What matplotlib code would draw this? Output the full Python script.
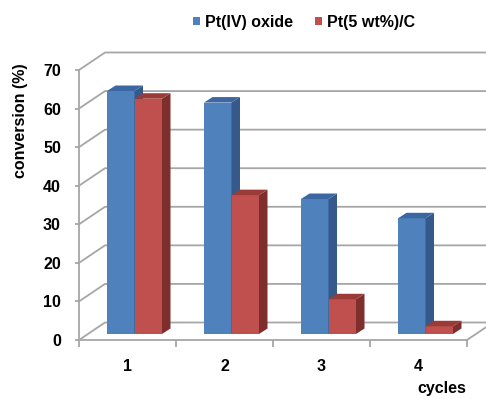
import matplotlib
matplotlib.use("Agg")
import matplotlib.pyplot as plt
from matplotlib.patches import Polygon
import numpy as np

categories = ["1", "2", "3", "4"]
series_names = ["Pt(IV) oxide", "Pt(5 wt%)/C"]
pt_oxide = [63, 60, 35, 30]
pt_carbon = [61, 36, 9, 2]
yticks = [0, 10, 20, 30, 40, 50, 60, 70]

plt.rcParams['font.family'] = ['Liberation Sans', 'DejaVu Sans']

W, H = 486, 399
fig = plt.figure(figsize=(W / 100, H / 100), dpi=100)
px_per_x = 97.0
px_per_y = 3.857
left_px, bottom_px = 79, 340
ymax = 75
ax = fig.add_axes([left_px / W, (H - bottom_px) / H,
                   (W - left_px) / W, ymax * px_per_y / H])
xmin = 0.5
xmax = 0.5 + (W - left_px) / px_per_x
ax.set_xlim(xmin, xmax)
ax.set_ylim(0, ymax)

grid_c = "#A6A6A6"
wdx = 26 / px_per_x
wdy = 17.5 / px_per_y
xend = 4.5
for v in yticks:
    ax.plot([xmin, xmin + wdx, xmax + 1], [v, v + wdy, v + wdy], color=grid_c,
            lw=1.3, clip_on=False, zorder=1)
ax.plot([xend, xend + wdx], [0, wdy], color=grid_c, lw=1.3, clip_on=False, zorder=1)

for s in ["top", "right"]:
    ax.spines[s].set_visible(False)
ax.spines["left"].set_bounds(0, 70)
ax.spines["bottom"].set_bounds(0.5, 4.5)
for s in ["left", "bottom"]:
    ax.spines[s].set_color(grid_c)
    ax.spines[s].set_linewidth(1.3)
fs = 11.5
ax.set_yticks(yticks)
ax.set_yticklabels([str(v) for v in yticks], fontsize=fs, fontweight="bold")
ax.tick_params(axis="y", length=3, color=grid_c, pad=10, width=1.3)
x = np.arange(1, len(categories) + 1)
ax.set_xticks([0.5, 1.5, 2.5, 3.5, 4.5])
ax.set_xticklabels([])
ax.set_xticks(x, minor=True)
ax.set_xticklabels(categories, minor=True, fontsize=fs, fontweight="bold")
ax.tick_params(axis="x", which="major", length=5, color=grid_c, width=1.3)
ax.tick_params(axis="x", which="minor", length=0, pad=13.5)

bw = 27.5 / px_per_x
bx_off = 7 / px_per_x
base = 6 / px_per_y
ddx = 8.5 / px_per_x
ddy = 5.5 / px_per_y
colors = [("#4F81BD", "#35598A", "#3D67A3"), ("#C0504D", "#7E2F2D", "#9B3B38")]
for si, vals in enumerate([pt_oxide, pt_carbon]):
    front, side, top = colors[si]
    xs = x + bx_off + (si - 0.5) * bw
    bars = ax.bar(xs, vals, width=bw, bottom=base, color=front, zorder=3 + si,
                  label=series_names[si], linewidth=0)
    for r in bars:
        x0 = r.get_x()
        x1 = x0 + r.get_width()
        y0 = r.get_y()
        y1 = y0 + r.get_height()
        ax.add_patch(Polygon([(x1, y0), (x1 + ddx, y0 + ddy), (x1 + ddx, y1 + ddy), (x1, y1)],
                             closed=True, facecolor=side, lw=0, zorder=3 + si))
        ax.add_patch(Polygon([(x0, y1), (x0 + ddx, y1 + ddy), (x1 + ddx, y1 + ddy), (x1, y1)],
                             closed=True, facecolor=top, lw=0, zorder=3 + si))

fig.text(21 / W, 1 - 121 / H, "conversion (%)", fontsize=fs, fontweight="bold",
         rotation=90, ha="center", va="center")
fig.text(442 / W, 1 - 388 / H, "cycles", fontsize=fs, fontweight="bold",
         ha="center", va="center")

fig.legend(loc="center", bbox_to_anchor=(304 / W, 1 - 22 / H), ncol=2,
           frameon=False, handlelength=0.45, handleheight=0.45,
           handletextpad=0.3, columnspacing=1.4,
           prop={"weight": "bold", "size": fs})

fig.savefig("out.png", dpi=100)
